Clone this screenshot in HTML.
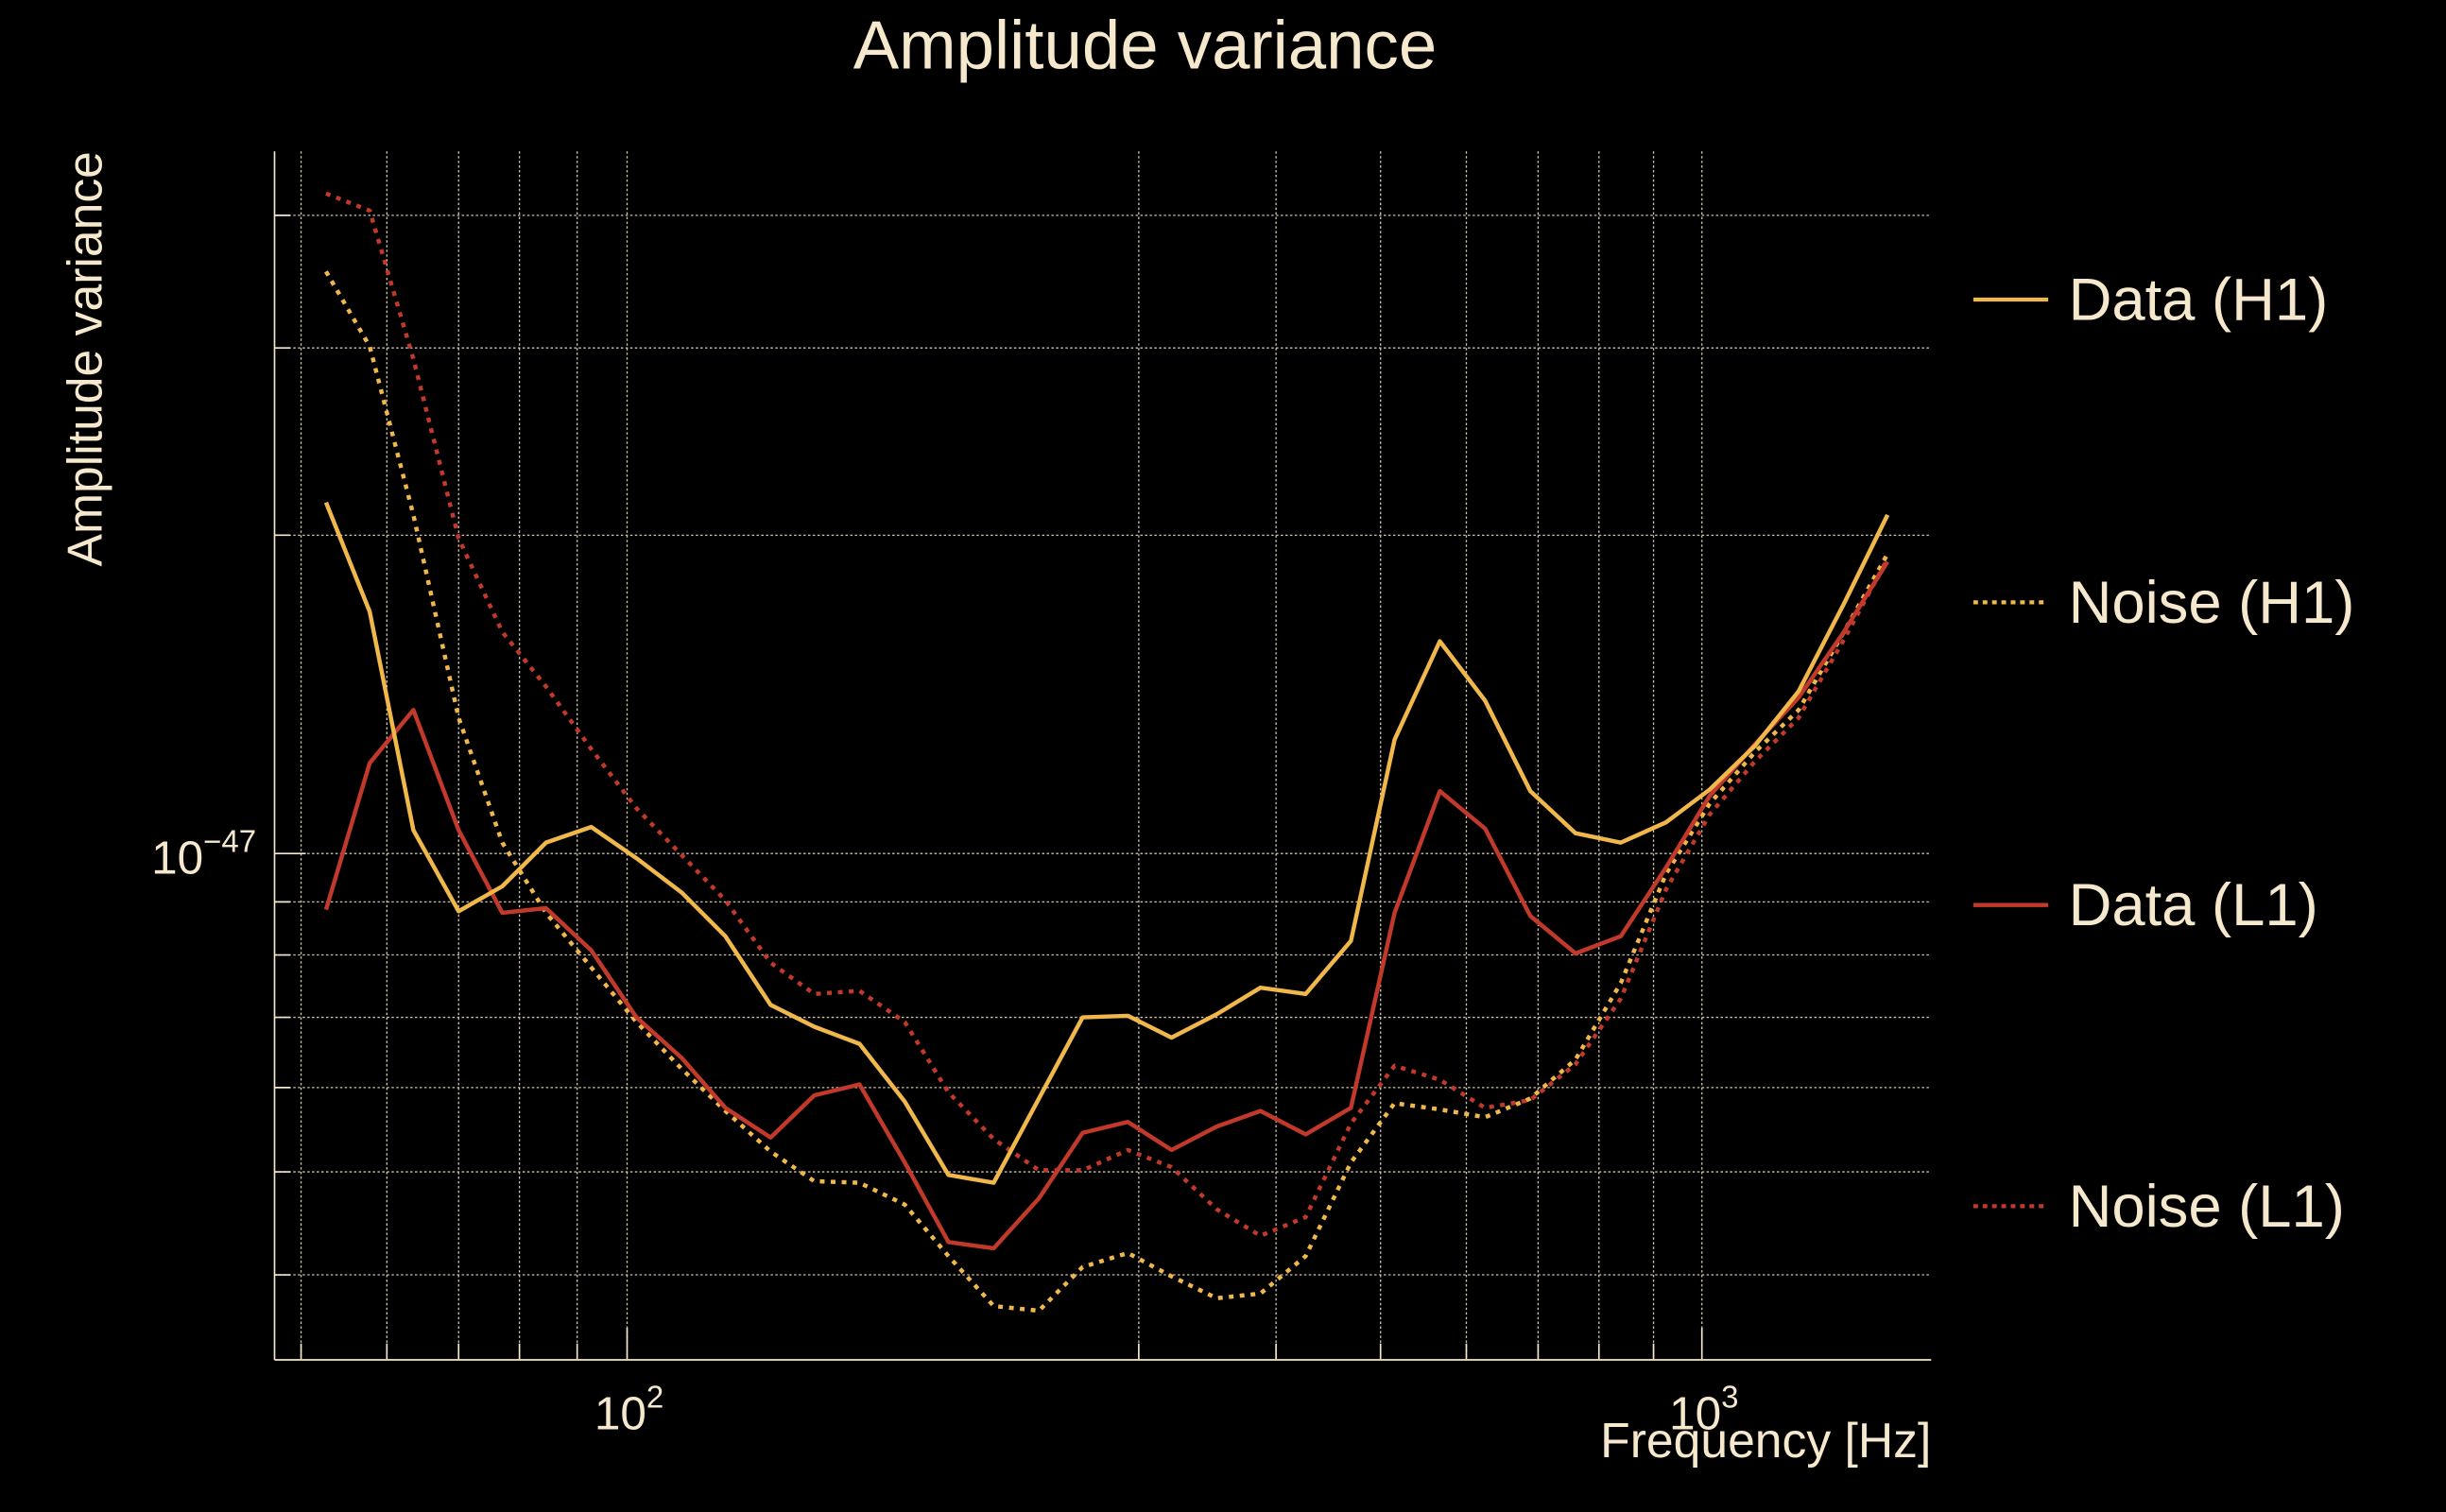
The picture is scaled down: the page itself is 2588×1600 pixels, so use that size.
<!DOCTYPE html>
<html><head><meta charset="utf-8"><style>
html,body{margin:0;padding:0;background:#000;}
svg{display:block;}
text{font-family:"Liberation Sans",sans-serif;fill:#F5E8CC;}
</style></head><body>
<svg width="2588" height="1600" viewBox="0 0 1568 969" preserveAspectRatio="none" xmlns="http://www.w3.org/2000/svg">
<rect width="1568" height="969" fill="#000"/>
<g stroke="#F5E8CC" stroke-width="0.8" stroke-dasharray="1.5,1.5" opacity="0.85">
<line x1="193" y1="97" x2="193" y2="871"/><line x1="248" y1="97" x2="248" y2="871"/><line x1="294" y1="97" x2="294" y2="871"/><line x1="333" y1="97" x2="333" y2="871"/><line x1="370" y1="97" x2="370" y2="871"/><line x1="402" y1="97" x2="402" y2="871"/><line x1="730" y1="97" x2="730" y2="871"/><line x1="818" y1="97" x2="818" y2="871"/><line x1="885" y1="97" x2="885" y2="871"/><line x1="940" y1="97" x2="940" y2="871"/><line x1="986" y1="97" x2="986" y2="871"/><line x1="1025" y1="97" x2="1025" y2="871"/><line x1="1060" y1="97" x2="1060" y2="871"/><line x1="1091" y1="97" x2="1091" y2="871"/>
<line x1="176" y1="138" x2="1238" y2="138"/><line x1="176" y1="223" x2="1238" y2="223"/><line x1="176" y1="343" x2="1238" y2="343"/><line x1="176" y1="547" x2="1238" y2="547"/><line x1="176" y1="578" x2="1238" y2="578"/><line x1="176" y1="612" x2="1238" y2="612"/><line x1="176" y1="652" x2="1238" y2="652"/><line x1="176" y1="697" x2="1238" y2="697"/><line x1="176" y1="751" x2="1238" y2="751"/><line x1="176" y1="817" x2="1238" y2="817"/>
</g>
<g stroke="#F5E8CC" stroke-width="1">
<line x1="176" y1="97" x2="176" y2="871.5"/><line x1="176" y1="871.5" x2="1238" y2="871.5"/>
<line x1="176" y1="547" x2="196" y2="547"/><line x1="176" y1="138" x2="186" y2="138"/><line x1="176" y1="223" x2="186" y2="223"/><line x1="176" y1="343" x2="186" y2="343"/><line x1="176" y1="578" x2="186" y2="578"/><line x1="176" y1="612" x2="186" y2="612"/><line x1="176" y1="652" x2="186" y2="652"/><line x1="176" y1="697" x2="186" y2="697"/><line x1="176" y1="751" x2="186" y2="751"/><line x1="176" y1="817" x2="186" y2="817"/>
<line x1="402" y1="871" x2="402" y2="851"/><line x1="1091" y1="871" x2="1091" y2="851"/>
<line x1="193" y1="871" x2="193" y2="861"/><line x1="248" y1="871" x2="248" y2="861"/><line x1="294" y1="871" x2="294" y2="861"/><line x1="333" y1="871" x2="333" y2="861"/><line x1="370" y1="871" x2="370" y2="861"/><line x1="730" y1="871" x2="730" y2="861"/><line x1="818" y1="871" x2="818" y2="861"/><line x1="885" y1="871" x2="885" y2="861"/><line x1="940" y1="871" x2="940" y2="861"/><line x1="986" y1="871" x2="986" y2="861"/><line x1="1025" y1="871" x2="1025" y2="861"/><line x1="1060" y1="871" x2="1060" y2="861"/>
</g>
<g fill="none" stroke-width="2.7" stroke-linejoin="round">
<polyline stroke="#C0392B" stroke-dasharray="3,4" points="209,124 237,135 265,230 294,345 322,405 350,440 379,480 408,518 437,548 465,577 494,617 522,637 551,635 580,655 608,700 637,730 666,750 694,750 723,737 751,748 780,775 808,792 837,780 866,720 894,683 923,692 952,710 981,705 1010,682 1039,640 1068,570 1096,522 1125,488 1153,460 1182,410 1210,358"/>
<polyline stroke="#F0B84A" stroke-dasharray="3,4" points="209,174 237,222 265,330 294,460 322,540 350,585 379,620 408,655 437,685 465,712 494,738 522,757 551,758 580,772 608,805 637,837 666,840 694,812 723,803 751,818 780,832 808,829 837,805 866,745 894,707 923,711 952,716 981,704 1010,679 1039,630 1068,560 1096,515 1125,482 1153,455 1182,405 1210,355"/>
<polyline stroke="#C0392B" points="209,583 237,489 265,455 294,532 322,585 350,582 379,609 408,652 437,678 465,710 494,729 522,702 551,695 580,745 608,796 637,800 666,768 694,726 723,719 751,737 780,722 808,712 837,727 866,710 894,585 923,507 952,531 981,587 1010,611 1039,600 1068,556 1096,510 1125,477 1153,447 1182,405 1210,360"/>
<polyline stroke="#F0B84A" points="209,322 237,392 265,532 294,584 322,568 350,540 379,530 408,550 437,572 465,600 494,644 522,658 551,669 580,706 608,753 637,758 666,704 694,652 723,651 751,665 780,650 808,633 837,637 866,603 894,474 923,411 952,449 981,507 1010,534 1039,540 1068,527 1096,506 1125,478 1153,443 1182,387 1210,330"/>
</g>
<g stroke-width="2.6">
<line x1="1265" y1="192" x2="1313" y2="192" stroke="#F0B84A"/>
<line x1="1265" y1="386" x2="1313" y2="386" stroke="#F0B84A" stroke-dasharray="3,3"/>
<line x1="1265" y1="580" x2="1313" y2="580" stroke="#C0392B"/>
<line x1="1265" y1="773" x2="1313" y2="773" stroke="#C0392B" stroke-dasharray="3,3"/>
</g>
<g font-size="38.4">
<text x="1326" y="205">Data (H1)</text>
<text x="1326" y="399">Noise (H1)</text>
<text x="1326" y="593">Data (L1)</text>
<text x="1326" y="786">Noise (L1)</text>
</g>
<text x="734" y="44" font-size="44" text-anchor="middle">Amplitude variance</text>
<text transform="translate(65,230) rotate(-90)" font-size="31.3" text-anchor="middle">Amplitude variance</text>
<text x="1238" y="934" font-size="31.3" text-anchor="end">Frequency [Hz]</text>
<text x="381" y="916" font-size="30">10<tspan font-size="20" dy="-14">2</tspan></text>
<text x="1070" y="916" font-size="30">10<tspan font-size="20" dy="-14">3</tspan></text>
<text x="97" y="560" font-size="30">10<tspan font-size="20" dy="-14">−47</tspan></text>
</svg>
</body></html>
